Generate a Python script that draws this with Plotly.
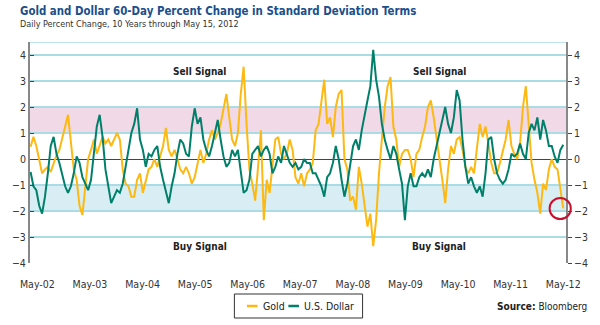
import pandas as pd
import plotly.graph_objects as go

# ~20-day samples (standard-deviation units)
gold = [0.47, 0.85, 0.5, 0.0, -0.55, -0.4, -0.3, -0.5, -0.15, 0.15,
        0.35, 0.85, 1.25, 1.7, 0.75, -0.4, -0.8, -1.8, -2.15, -1.05,
        0.0, 0.35, 0.75, 0.2, 0.5, 0.85, 0.6, 0.75, 0.5, 0.75,
        1.0, 0.75, -0.4, -0.95, -1.05, -1.45, -1.45, -0.8,
        -0.55, -1.3, -0.8, -0.4, -0.3, 0.0, -0.3, 0.1, 0.5, 1.2,
        0.35, 0.1, 0.35, 0.0, -0.4, -0.55, -0.3, -0.55, -0.95, -0.7,
        -0.15, 0.35, -0.15, 0.2, 0.75, 1.1, 0.75, 1.0, 1.35, 2.0,
        2.5, 1.6, 0.75, 0.5, 1.0, 2.5, 3.55,
        1.35, -0.4, -0.95, -1.6, -0.3, 1.1, -2.35, -0.8, -1.3, -0.3,
        0.75, 0.85, 0.2, 0.0, 0.2, 0.75, 0.35, -0.7, -0.95, -0.55,
        -1.05, -0.55, -0.4, -0.15, 1.1, 1.35, 2.25, 3.05, 1.35, 1.6,
        0.85, 2.0, 2.5, 2.65, 0.0, -0.4, -1.6,
        -1.45, -1.95, -0.3, -0.95, -1.8, -2.6, -2.1, -3.35, -2.35, -0.55,
        0.75, 2.0, 2.8, 3.15, 1.25, 0.75, -0.3, 0.2, 0.35, 0.35,
        0.0, -0.7, 0.2, 0.35, 0.85, 1.25, 2.0, 2.25, 1.6, 0.85,
        0.0, -0.8, -1.7, -0.4, 0.5, 0.2, 0.75,
        0.85, 0.35, -0.3, -0.55, -0.3, -0.55, 0.35, 1.35, 0.85, 1.25,
        0.6, -0.15, -0.55, -0.55, -0.15, 0.35, 0.75, 1.5, 0.5, 0.2,
        0.0, 0.6, 2.0, 2.8, 1.35, -0.15, -0.8, -1.3, -2.1, -0.95,
        -1.2, -0.4, 0.0, -0.3, -0.4, -1.2, -1.9]

dollar = [-0.5, -1.05, -1.2, -1.8, -2.1, -1.45, -0.55, 0.5, 0.85, 0.2,
          -0.15, -0.55, -1.05, -1.3, -1.05, -0.55, 0.1, -0.15, -0.7, -0.95,
          -1.2, -0.8, 0.2, 1.25, 1.7, 0.85, -0.4, -1.05, -1.7, -1.45,
          -1.2, -1.3, -0.95, -0.3, 0.35, 1.0, 1.35, 1.95,
          0.75, 0.35, -0.3, 0.2, 0.1, 0.35, 0.5, -0.3, -0.8, -1.3,
          -1.7, -1.05, -0.55, 0.2, 0.75, 0.6, 0.2, 0.1, 1.25, 1.95,
          1.35, 1.6, 0.75, 0.35, 0.1, 0.5, 1.0, 1.5, 0.75, 0.1,
          -0.3, -0.15, 0.35, 0.1, 0.35, -0.55, -1.3,
          -1.2, -0.8, 0.2, 0.35, 0.5, 0.1, 0.35, 0.5, 0.2, -0.55,
          -0.3, 0.1, -0.15, 0.5, 0.2, -0.15, -0.3, -0.15, -0.4, -0.3,
          0.0, -0.15, -0.15, -0.55, -0.55, -0.8, -1.05, -1.45, -0.7, -0.55,
          -0.15, 0.5, 0.0, -0.8, -1.45, -0.95, -0.3,
          0.5, 0.75, 0.35, 1.1, 1.75, 2.25, 2.8, 4.2, 3.05, 2.4,
          1.35, 0.75, 0.35, 0.0, 0.5, 0.2, -0.4, -0.95, -2.35, -1.05,
          -0.55, -1.05, -1.05, -0.7, -0.55, -0.7, -0.4, -0.7, 0.0, 0.5,
          1.0, 1.6, 2.0, 1.35, 1.0, 1.6, 2.65,
          2.25, 0.75, -0.3, -0.95, -0.7, -1.05, -1.3, -1.05, -1.45, -0.55,
          0.75, 0.85, 0.0, -0.55, -0.8, -0.95, -0.8, -0.4, 0.2, 0.1,
          0.2, 0.6, 0.2, 0.0, 1.0, 1.35, 1.1, 1.6, 0.75, 1.5,
          1.1, 0.5, 0.5, 0.1, -0.15, 0.35, 0.55]

series_names = ["Gold", "U.S. Dollar"]
dates = pd.date_range(end="2012-05-15", periods=len(gold), freq="20D")

tick_dates = pd.date_range("2002-05-15", periods=11, freq=pd.DateOffset(years=1))
tick_text = ["May-02", "May-03", "May-04", "May-05", "May-06", "May-07",
             "May-08", "May-09", "May-10", "May-11", "May-12"]
y_ticks = [-4, -3, -2, -1, 0, 1, 2, 3, 4]

FONT = "Liberation Sans Narrow, Arial Narrow, DejaVu Sans Condensed, sans-serif"
GOLD = "#fdb913"
GREEN = "#00806a"
GRID = "#a9dce5"

fig = go.Figure()
fig.add_trace(go.Scatter(x=dates, y=gold, name=series_names[0], mode="lines",
                         line=dict(color=GOLD, width=2)))
fig.add_trace(go.Scatter(x=dates, y=dollar, name=series_names[1], mode="lines",
                         line=dict(color=GREEN, width=2)))
# invisible trace to activate right axis
fig.add_trace(go.Scatter(x=[dates[0]], y=[0], yaxis="y2", showlegend=False,
                         mode="markers", marker=dict(opacity=0), hoverinfo="skip"))

# manual legend (paper coordinates)
LEG_Y = -0.1946
legend_shapes = [
    dict(type="rect", xref="paper", yref="paper", x0=0.3813, x1=0.6205,
         y0=-0.1403, y1=-0.2489, line=dict(color="#333", width=1),
         fillcolor="white"),
    dict(type="line", xref="paper", yref="paper", x0=0.4047, x1=0.4245,
         y0=LEG_Y, y1=LEG_Y, line=dict(color=GOLD, width=2.5)),
    dict(type="line", xref="paper", yref="paper", x0=0.4820, x1=0.5018,
         y0=LEG_Y, y1=LEG_Y, line=dict(color=GREEN, width=2.5)),
]
legend_texts = [
    dict(text=series_names[0], xref="paper", yref="paper", x=0.4317, y=LEG_Y,
         xanchor="left", yanchor="middle", showarrow=False,
         font=dict(family=FONT, size=10.5, color="#222")),
    dict(text=series_names[1], xref="paper", yref="paper", x=0.5072, y=LEG_Y,
         xanchor="left", yanchor="middle", showarrow=False,
         font=dict(family=FONT, size=10.5, color="#222")),
]

fig.update_layout(
    width=600, height=325,
    margin=dict(l=17, r=27, t=42, b=62, pad=0),
    paper_bgcolor="white", plot_bgcolor="white",
    font=dict(family=FONT, size=11, color="#333"),
    showlegend=False,
    xaxis=dict(type="date", range=["2002-03-25", "2012-06-03"],
               tickvals=tick_dates, ticktext=tick_text,
               showgrid=False, zeroline=False, showline=False,
               ticks="outside", ticklen=11, tickcolor="rgba(0,0,0,0)",
               tickfont=dict(family=FONT, size=10.5, color="#333")),
    yaxis=dict(range=[-4, 4.5], tickvals=y_ticks, showgrid=True,
               gridcolor=GRID, gridwidth=1.5,
               zeroline=True, zerolinecolor="#444", zerolinewidth=1,
               showline=True, linecolor="#888", linewidth=2,
               ticks="inside", ticklen=4, tickcolor="#444",
               tickfont=dict(family=FONT, size=10.5, color="#333")),
    yaxis2=dict(range=[-4, 4.5], tickvals=y_ticks, overlaying="y", side="right",
                showgrid=False, zeroline=False,
                showline=True, linecolor="#888", linewidth=2,
                ticks="outside", ticklen=4, tickcolor="#444",
                tickfont=dict(family=FONT, size=10.5, color="#333")),
    shapes=[
        dict(type="rect", xref="paper", yref="y", x0=0, x1=1, y0=1, y1=2,
             fillcolor="#f2d9e7", line=dict(width=0), layer="below"),
        dict(type="rect", xref="paper", yref="y", x0=0, x1=1, y0=-2, y1=-1,
             fillcolor="#d8eef4", line=dict(width=0), layer="below"),
        dict(type="line", xref="paper", yref="y", x0=0, x1=1, y0=4.5, y1=4.5,
             line=dict(color=GRID, width=1.5), layer="below"),
        dict(type="circle", xref="paper", yref="y", x0=0.9694, x1=1.009,
             y0=-2.31, y1=-1.5, line=dict(color="#c8102e", width=2)),
    ] + legend_shapes,
    annotations=[
        dict(text="<b>Gold and Dollar 60-Day Percent Change in Standard Deviation Terms</b>",
             xref="paper", yref="paper", x=-0.0216, y=1.1425, xanchor="left",
             yanchor="middle", showarrow=False,
             font=dict(family=FONT, size=11.4, color="#1b4f8b")),
        dict(text="Daily Percent Change, 10 Years through May 15, 2012",
             xref="paper", yref="paper", x=-0.0216, y=1.0814, xanchor="left",
             yanchor="middle", showarrow=False,
             font=dict(family=FONT, size=9, color="#333")),
        dict(text="<b>Sell Signal</b>", xref="paper", yref="y", x=0.263, y=3.38,
             showarrow=False, font=dict(family=FONT, size=10, color="#222")),
        dict(text="<b>Sell Signal</b>", xref="paper", yref="y", x=0.818, y=3.38,
             showarrow=False, font=dict(family=FONT, size=10, color="#222")),
        dict(text="<b>Buy Signal</b>", xref="paper", yref="y", x=0.263, y=-3.35,
             showarrow=False, font=dict(family=FONT, size=10, color="#222")),
        dict(text="<b>Buy Signal</b>", xref="paper", yref="y", x=0.818, y=-3.35,
             showarrow=False, font=dict(family=FONT, size=10, color="#222")),
        dict(text="<b>Source:</b> Bloomberg", xref="paper", yref="paper",
             x=1.043, y=LEG_Y, xanchor="right", yanchor="middle", showarrow=False,
             font=dict(family=FONT, size=10, color="#222")),
    ] + legend_texts,
)

fig.write_html("out.html")
